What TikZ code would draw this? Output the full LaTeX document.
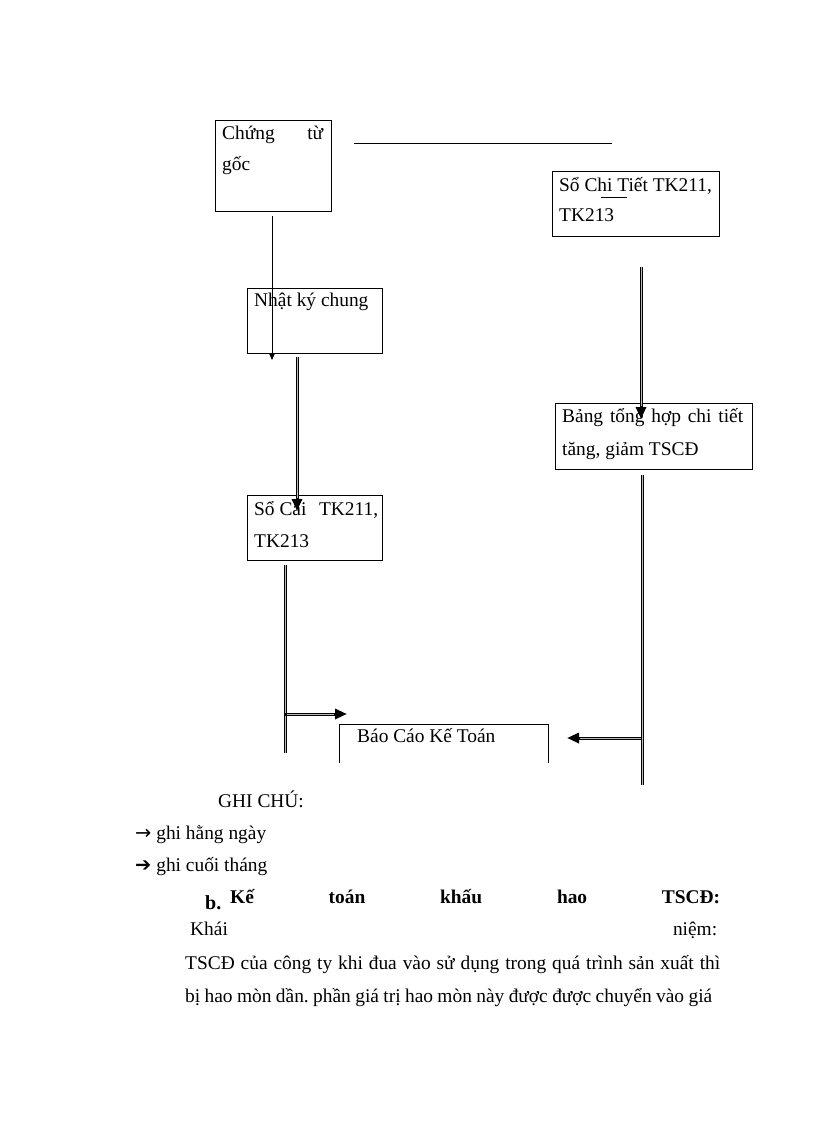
\documentclass[tikz,border=0pt]{standalone}
\usepackage{fontspec}
\setmainfont{Liberation Serif}
\newfontfamily\symfont{DejaVu Sans}
\usetikzlibrary{arrows.meta}
\frenchspacing
\begin{document}
\begin{tikzpicture}[x=1pt,y=-1pt,
  box/.style={draw, line width=0.8pt, inner sep=0pt, anchor=north west},
  txt/.style={anchor=base west, inner sep=0pt, font=\fontsize{19.4}{22}\selectfont},
  thinln/.style={draw, line width=0.7pt},
  dblout/.style={draw=black, line width=3pt},
  dblin/.style={draw=gray!55, line width=1pt},
  dtip/.style={-{Triangle[length=12pt,width=10pt]}},
  stip/.style={-{Triangle[length=7pt,width=6pt]}}
]
\useasboundingbox (0,0) rectangle (816,1123);
\fill[white] (0,0) rectangle (816,1123);

% boxes
\node[box, minimum width=116pt, minimum height=91pt] (goc) at (215,120) {};
\node[box, minimum width=135pt, minimum height=65pt] (nkc) at (247,288) {};
\node[box, minimum width=167pt, minimum height=65pt] (sct) at (552,171) {};
\node[box, minimum width=197pt, minimum height=66pt] (bth) at (555,403) {};
\node[box, minimum width=135pt, minimum height=65pt] (scai) at (247,495) {};
\node[inner sep=0pt, anchor=north west, minimum width=209pt, minimum height=39pt] (bckt) at (339,724) {};
\draw[line width=0.8pt] (bckt.south west) -- (bckt.north west) -- (bckt.north east) -- (bckt.south east);

% box texts
\node[txt] (t1) at (222,140) {\makebox[101pt][s]{Chứng\hfill từ}};
\node[txt] (t2) at (222,171) {gốc};
\node[txt] (t3) at (559,192) {Sổ Chi Tiết TK211,};
\node[txt] (t4) at (559,222) {TK213};
\node[txt] (t5) at (254,306) {Nhật ký chung};
\node[txt] (t6) at (562,422) {\makebox[181pt][s]{Bảng\hfill tổng\hfill hợp\hfill chi\hfill tiết}};
\node[txt] (t7) at (562,455) {tăng, giảm TSCĐ};
\node[txt] (t8) at (254,515) {\makebox[124pt][s]{Sổ Cái\hfill TK211,}};
\node[txt] (t9) at (254,547) {TK213};
\node[txt] (t10) at (357,742) {Báo Cáo Kế Toán};

% small underline in "Sổ Chi Tiết"
\coordinate (u1) at (601,197);
\coordinate (u2) at (627,197);
\draw[line width=0.6pt] (u1) -- (u2);

% top horizontal line
\coordinate (h1) at (354,143);
\coordinate (h2) at (612,143);
\draw[thinln] (h1) -- (h2);

% connectors
\coordinate (a1) at (272,216);
\coordinate (a2) at (272,360);
\draw[thinln, stip] (a1) -- (a2);

\coordinate (b1) at (297,357);
\coordinate (b2) at (297,511);
\draw[dblout, dtip] (b1) -- (b2);
\draw[dblin, shorten >=13pt] (b1) -- (b2);

\coordinate (c1) at (641,267);
\coordinate (c2) at (641,419);
\draw[dblout, dtip] (c1) -- (c2);
\draw[dblin, shorten >=13pt] (c1) -- (c2);

\coordinate (d1) at (285,565);
\coordinate (d2) at (285,753);
\draw[dblout] (d1) -- (d2);
\draw[dblin] (d1) -- (d2);
\coordinate (d3) at (285,714);
\coordinate (d4) at (347,714);
\draw[dblout, dtip] (d3) -- (d4);
\draw[dblin, shorten >=13pt, shorten <=1.5pt] (d3) -- (d4);

\coordinate (e1) at (642,475);
\coordinate (e2) at (642,785);
\draw[dblout] (e1) -- (e2);
\draw[dblin] (e1) -- (e2);
\coordinate (e3) at (642,738);
\coordinate (e4) at (567,738);
\draw[dblout, dtip] (e3) -- (e4);
\draw[dblin, shorten >=13pt, shorten <=1.5pt] (e3) -- (e4);

% legend and text
\node[txt] (g1) at (218,807) {GHI CHÚ:};
\node[txt] (g2) at (135,839) {{\symfont →} ghi hằng ngày};
\node[txt] (g3) at (135,871) {{\symfont ➔} ghi cuối tháng};
\node[txt, font=\fontsize{20}{22}\selectfont\bfseries] (p0) at (205,909) {b.};
\node[txt, font=\fontsize{19.4}{22}\selectfont\bfseries] (p1) at (230,903) {\makebox[490pt][s]{Kế\hfill toán\hfill khấu\hfill hao\hfill TSCĐ:}};
\node[txt] (p2) at (190,935) {\makebox[527pt][s]{Khái\hfill niệm:}};
\node[txt] (p3) at (185,969) {\makebox[535pt][s]{TSCĐ của công ty khi đua vào sử dụng trong quá trình sản xuất thì}};
\node[txt] (p4) at (185,1002) {\makebox[527pt][s]{bị hao mòn dần. phần giá trị hao mòn này được được chuyển vào giá}};
\end{tikzpicture}
\end{document}
